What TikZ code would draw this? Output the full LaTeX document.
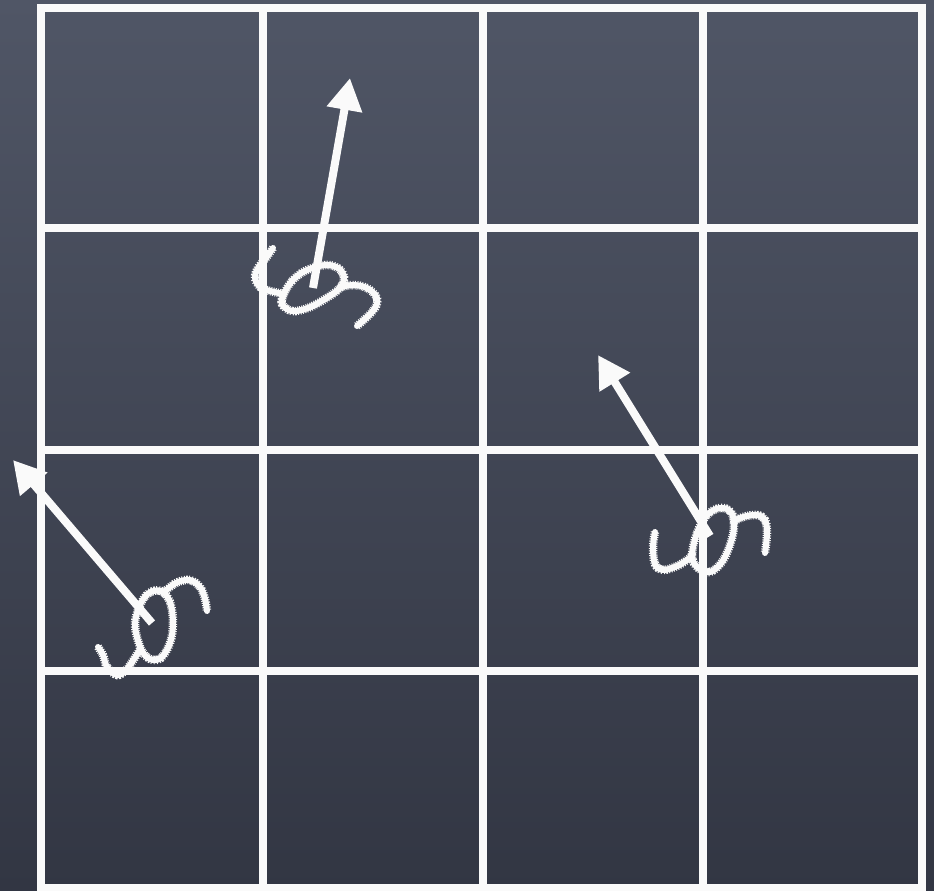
\documentclass[tikz,border=0pt]{standalone}
\usetikzlibrary{arrows.meta}
\definecolor{boardtop}{RGB}{80,86,102}
\definecolor{boardbot}{RGB}{50,54,67}
\definecolor{chalkw}{RGB}{250,250,250}
\tikzset{
  gridline/.style={draw=chalkw, line width=8pt},
  chalk/.style={draw=chalkw, line width=6pt, line cap=round, line join=round},
  chalkfuzz/.style={draw=chalkw, line width=8.5pt, dash pattern=on 1pt off 1.3pt},
  vec/.style={draw=chalkw, line width=8pt,
    -{Triangle[length=32pt,width=34pt]}}
}
\begin{document}
\begin{tikzpicture}[x=1pt,y=-1pt]
\useasboundingbox (0,0) rectangle (934,891);
\shade[top color=boardtop, bottom color=boardbot] (0,0) rectangle (934,891);
% grid
\draw[gridline] (41,8) rectangle (922,888);
\foreach \x in {263,483,703} \draw[gridline] (\x,8) -- (\x,888);
\foreach \y in {228,450,671} \draw[gridline] (41,\y) -- (922,\y);
% squiggles
\foreach \s in {chalkfuzz,chalk}{
% top
\draw[\s] plot[smooth, tension=0.6] coordinates {(273,248) (266,258) (258,268) (255,278) (260,287) (270,291) (284,294)};
\draw[\s] plot[smooth cycle, tension=0.6] coordinates {(284,294) (292,281) (305,271) (325,265) (338,268) (344,277) (340,288) (325,299) (308,308) (292,311) (282,304)};
\draw[\s] plot[smooth, tension=0.6] coordinates {(339,288) (352,285) (367,288) (377,298) (375,308) (366,318) (357,326)};
% left
\draw[\s] plot[smooth, tension=0.6] coordinates {(98,647) (103,655) (107,667) (117,675) (126,670) (134,659) (141,648)};
\draw[\s] plot[smooth cycle, tension=0.6] coordinates {(135,625) (140,605) (149,593) (161,591) (170,602) (173,623) (170,643) (161,658) (150,659) (141,649)};
\draw[\s] plot[smooth, tension=0.6] coordinates {(163,593) (170,587) (178,582) (190,580) (200,587) (205,599) (207,611)};
% right
\draw[\s] plot[smooth, tension=0.6] coordinates {(655,532) (653,547) (655,564) (663,570) (677,566) (687,560) (693,554)};
\draw[\s] plot[smooth cycle, tension=0.6] coordinates {(692,556) (697,533) (707,515) (720,508) (731,512) (734,527) (730,545) (722,562) (710,572) (698,568)};
\draw[\s] plot[smooth, tension=0.6] coordinates {(733,522) (743,517) (757,515) (765,520) (767,533) (765,553)};
}
% arrows
\coordinate (t1) at (313,288);
\coordinate (h1) at (350,78);
\coordinate (t2) at (152,623);
\coordinate (h2) at (13,460);
\coordinate (t3) at (710,536);
\coordinate (h3) at (598,355);
\draw[vec] (t1) -- (h1);
\draw[vec] (t2) -- (h2);
\draw[vec] (t3) -- (h3);
\end{tikzpicture}
\end{document}
